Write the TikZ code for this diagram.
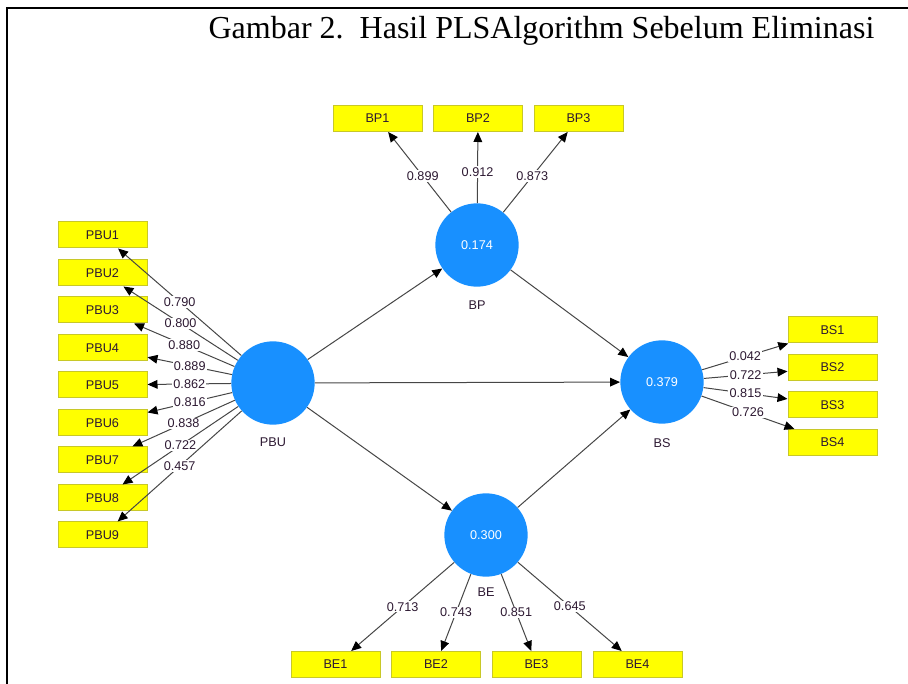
\documentclass[tikz,border=0pt]{standalone}
\usepackage{fontspec}
\setmainfont{Liberation Sans}
\newfontfamily\titlefont{Liberation Serif}
\usetikzlibrary{arrows.meta}
\definecolor{boxyellow}{RGB}{255,255,0}
\definecolor{boxedge}{RGB}{200,200,40}
\definecolor{lvblue}{RGB}{24,144,255}
\definecolor{txt}{RGB}{45,25,50}
\definecolor{edgegray}{RGB}{70,70,70}
\begin{document}
\begin{tikzpicture}[x=0.75pt,y=-0.75pt,
  ind/.style={draw=boxedge, fill=boxyellow, minimum width=66.75pt, minimum height=19.5pt, inner sep=0pt, font=\fontsize{9.5}{11}\selectfont, text=txt, line width=0.75pt},
  lv/.style={circle, fill=lvblue, minimum size=62.5pt, inner sep=0pt, text=white, font=\fontsize{9.5}{11}\selectfont},
  lvname/.style={font=\fontsize{9.5}{11}\selectfont, text=txt},
  conn/.style={draw=edgegray, line width=0.75pt, -{Triangle[length=7.5pt,width=6.5pt,color=black]}},
  wt/.style={fill=white, inner sep=1pt, font=\fontsize{9.5}{11}\selectfont, text=txt}
]
\useasboundingbox (0,0) rectangle (908,684);
\draw[line width=1.1pt] (908,8) -- (7,8) -- (7,684);
\node[anchor=base, font=\titlefont\fontsize{24}{28}\selectfont] (title) at (541.5,39) {Gambar 2.~~Hasil PLSAlgorithm Sebelum Eliminasi};

% latent variables
\node[lv] (PBU) at (273,383) {};
\node[lv] (BP) at (477,245) {0.174};
\node[lv] (BS) at (662,382) {0.379};
\node[lv] (BE) at (486,535) {0.300};
\node[lvname] (PBUn) at (273,442) {PBU};
\node[lvname] (BPn) at (477,305) {BP};
\node[lvname] (BSn) at (662,443) {BS};
\node[lvname] (BEn) at (486,592) {BE};

% indicators
\node[ind] (BP1) at (377.5,118.5) {BP1};
\node[ind] (BP2) at (478,118.5) {BP2};
\node[ind] (BP3) at (578.5,118.5) {BP3};
\foreach \i/\y in {1/235,2/273,3/310,4/348,5/385,6/423,7/460,8/498,9/535}
  \node[ind] (PBU\i) at (102.5,\y) {PBU\i};
\node[ind] (BS1) at (832.5,330) {BS1};
\node[ind] (BS2) at (832.5,367.5) {BS2};
\node[ind] (BS3) at (832.5,405) {BS3};
\node[ind] (BS4) at (832.5,442.5) {BS4};
\node[ind] (BE1) at (335.5,664.5) {BE1};
\node[ind] (BE2) at (436,664.5) {BE2};
\node[ind] (BE3) at (536.5,664.5) {BE3};
\node[ind] (BE4) at (637.5,664.5) {BE4};

% structural paths
\draw[conn] (PBU) -- (BP);
\draw[conn] (PBU) -- (BS);
\draw[conn] (PBU) -- (BE);
\draw[conn] (BP) -- (BS);
\draw[conn] (BE) -- (BS);

% outer loadings
\foreach \i/\w in {1/0.790,2/0.800,3/0.880,4/0.889,5/0.862,6/0.816,7/0.838,8/0.722,9/0.457}
  \draw[conn] (PBU) -- node[wt, pos=0.5] {\w} (PBU\i);
\draw[conn] (BP) -- node[wt, pos=0.45] {0.899} (BP1);
\draw[conn] (BP) -- node[wt, pos=0.44] {0.912} (BP2);
\draw[conn] (BP) -- node[wt, pos=0.45] {0.873} (BP3);
\draw[conn] (BS) -- node[wt, pos=0.5] {0.042} (BS1);
\draw[conn] (BS) -- node[wt, pos=0.5] {0.722} (BS2);
\draw[conn] (BS) -- node[wt, pos=0.5] {0.815} (BS3);
\draw[conn] (BS) -- node[wt, pos=0.5] {0.726} (BS4);
\draw[conn] (BE) -- node[wt, pos=0.5] {0.713} (BE1);
\draw[conn] (BE) -- node[wt, pos=0.5] {0.743} (BE2);
\draw[conn] (BE) -- node[wt, pos=0.5] {0.851} (BE3);
\draw[conn] (BE) -- node[wt, pos=0.5] {0.645} (BE4);
\end{tikzpicture}
\end{document}
